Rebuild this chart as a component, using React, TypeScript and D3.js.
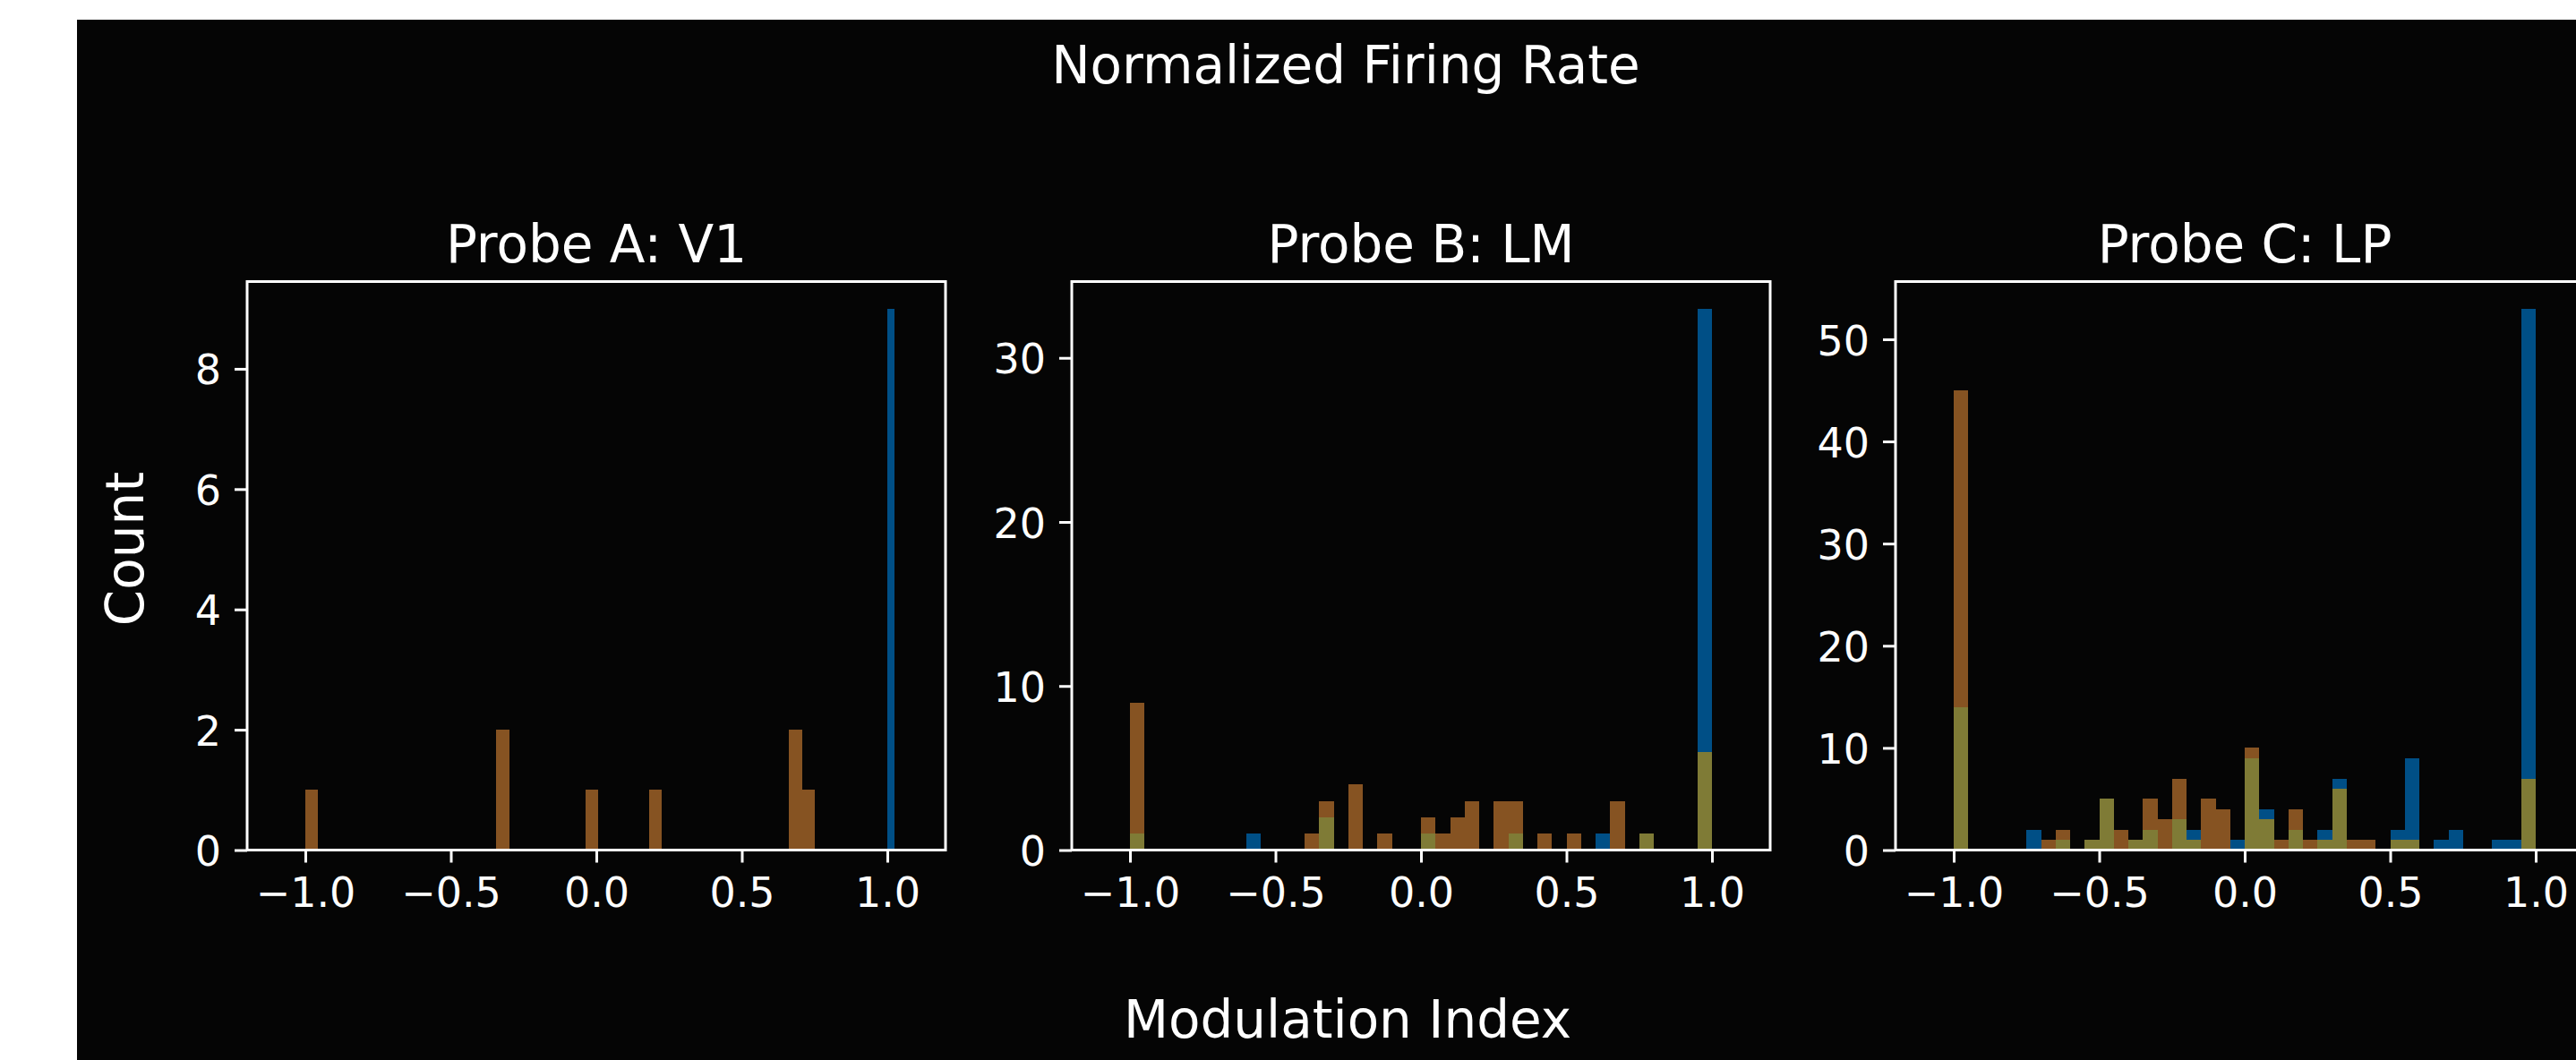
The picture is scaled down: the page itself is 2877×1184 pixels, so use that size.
import React, { useEffect, useRef } from "react";
import * as d3 from "d3";

// histogram counts, 40 bins each
const binsPerHist = 40;
const probeTitles = ["Probe A: V1", "Probe B: LM", "Probe C: LP"];
// [lo, hi] of each histogram's bin edges
const blueBinRanges = [[0.5, 1.5], [-1, 1], [-1, 1]];
const orangeBinRanges = [[-1, 0.75], [-1, 1], [-1, 1]];

const probeABlue = [0,0,0,0,0,0,0,0,0,0, 0,0,0,0,0,0,0,0,0,0, 9,0,0,0,0,0,0,0,0,0, 0,0,0,0,0,0,0,0,0,0];
const probeAOrange = [1,0,0,0,0,0,0,0,0,0, 0,0,0,0,0,2,0,0,0,0, 0,0,1,0,0,0,0,1,0,0, 0,0,0,0,0,0,0,0,2,1];
const probeBBlue = [1,0,0,0,0,0,0,0,1,0, 0,0,0,2,0,0,0,0,0,0, 1,0,0,0,0,0,1,0,0,0, 0,0,1,0,0,1,0,0,0,33];
const probeBOrange = [9,0,0,0,0,0,0,0,0,0, 0,0,1,3,0,4,0,1,0,0, 2,1,2,3,0,3,3,0,1,0, 1,0,0,3,0,1,0,0,0,6];
const probeCBlue = [14,0,0,0,0,2,0,1,0,1, 5,0,1,2,0,3,2,0,0,1, 9,4,0,2,0,2,7,0,0,0, 2,9,0,1,2,0,0,1,1,53];
const probeCOrange = [45,0,0,0,0,0,1,2,0,1, 5,2,1,5,3,7,1,5,4,0, 10,3,1,4,1,1,6,1,1,0, 1,1,0,0,0,0,0,0,0,7];

const blueCounts = [probeABlue, probeBBlue, probeCBlue];
const orangeCounts = [probeAOrange, probeBOrange, probeCOrange];

const yMaxes = [9.45, 34.65, 55.65];
const yTicksA = [0, 2, 4, 6, 8];
const yTicksB = [0, 10, 20, 30];
const yTicksC = [0, 10, 20, 30, 40, 50];
const yTickSets = [yTicksA, yTicksB, yTicksC];
const xTicks = [-1, -0.5, 0, 0.5, 1];
const xTickLabels = ["\u22121.0", "\u22120.5", "0.0", "0.5", "1.0"];

const W = 2877;
const H = 1184;
const FONT = "DejaVu Sans, sans-serif";
const BLUE = "#004f86";
const ORANGE = "#865322";
const OLIVE = "#7f7b36";

type Bar = { x0: number; x1: number; n: number };

function toBars(counts: number[], range: number[]): Bar[] {
  const w = (range[1] - range[0]) / binsPerHist;
  return counts
    .map((n, i) => ({ x0: range[0] + i * w, x1: range[0] + (i + 1) * w, n }))
    .filter((b) => b.n > 0);
}

const App = () => {
  const svgRef = useRef<SVGSVGElement | null>(null);

  useEffect(() => {
    const svg = d3.select(svgRef.current);
    svg.selectAll("*").remove();

    svg.append("rect").attr("width", W).attr("height", H).attr("fill", "#ffffff");
    svg.append("rect").attr("x", 86).attr("y", 22).attr("width", W).attr("height", H).attr("fill", "#050505");

    const panelLefts = [276, 1197, 2117];
    const pw = 780;
    const top = 314.5;
    const bottom = 949.5;

    panelLefts.forEach((left, p) => {
      const x = d3.scaleLinear().domain([-1.2, 1.2]).range([left, left + pw]);
      const y = d3.scaleLinear().domain([0, yMaxes[p]]).range([bottom, top]);

      svg.append("clipPath").attr("id", `clip${p}`)
        .append("rect").attr("x", left).attr("y", top).attr("width", pw).attr("height", bottom - top);

      const g = svg.append("g").attr("clip-path", `url(#clip${p})`);
      const blue = toBars(blueCounts[p], blueBinRanges[p]);
      const orange = toBars(orangeCounts[p], orangeBinRanges[p]);

      // where both histograms overlap the blend shows as olive
      const overlap: Bar[] = [];
      blue.forEach((b) => orange.forEach((o) => {
        const a = Math.max(b.x0, o.x0);
        const c = Math.min(b.x1, o.x1);
        if (c > a + 1e-9) overlap.push({ x0: a, x1: c, n: Math.min(b.n, o.n) });
      }));

      const drawBars = (bars: Bar[], color: string) => {
        g.selectAll(null).data(bars).enter().append("rect")
          .attr("x", (d) => x(d.x0))
          .attr("y", (d) => y(d.n))
          .attr("width", (d) => x(d.x1) - x(d.x0))
          .attr("height", (d) => y(0) - y(d.n))
          .attr("fill", color)
          .attr("shape-rendering", "crispEdges");
      };
      drawBars(blue, BLUE);
      drawBars(orange, ORANGE);
      drawBars(overlap, OLIVE);

      // x axis
      const xa = svg.append("g").attr("transform", `translate(0,${bottom})`)
        .call(d3.axisBottom(x).tickValues(xTicks).tickFormat((_, i) => xTickLabels[i]).tickSize(14).tickPadding(17));
      // y axis
      const ya = svg.append("g").attr("transform", `translate(${left},0)`)
        .call(d3.axisLeft(y).tickValues(yTickSets[p]).tickFormat(d3.format("d")).tickSize(14).tickPadding(15));

      [xa, ya].forEach((ax) => {
        ax.select(".domain").remove();
        ax.attr("font-family", FONT).attr("font-size", 46);
        ax.selectAll("line").attr("stroke", "#ffffff").attr("stroke-width", 3);
        ax.selectAll("text").attr("fill", "#ffffff");
      });
      ya.selectAll("text").attr("dy", "0.37em");

      // frame
      svg.append("rect")
        .attr("x", left).attr("y", top).attr("width", pw).attr("height", bottom - top)
        .attr("fill", "none").attr("stroke", "#ffffff").attr("stroke-width", 3);

      svg.append("text")
        .attr("x", left + pw / 2).attr("y", 293)
        .attr("text-anchor", "middle")
        .attr("font-family", FONT).attr("font-size", 58).attr("fill", "#ffffff")
        .text(probeTitles[p]);
    });

    svg.append("text")
      .attr("x", 1503).attr("y", 93)
      .attr("text-anchor", "middle")
      .attr("font-family", FONT).attr("font-size", 58).attr("fill", "#ffffff")
      .text("Normalized Firing Rate");

    svg.append("text")
      .attr("x", 1505).attr("y", 1159)
      .attr("text-anchor", "middle")
      .attr("font-family", FONT).attr("font-size", 58).attr("fill", "#ffffff")
      .text("Modulation Index");

    svg.append("text")
      .attr("transform", "translate(160,613) rotate(-90)")
      .attr("text-anchor", "middle")
      .attr("font-family", FONT).attr("font-size", 58).attr("fill", "#ffffff")
      .text("Count");
  }, []);

  return (
    <svg
      ref={svgRef}
      width={W}
      height={H}
      style={{ position: "absolute", left: 0, top: 0, display: "block" }}
    />
  );
};

export default App;
